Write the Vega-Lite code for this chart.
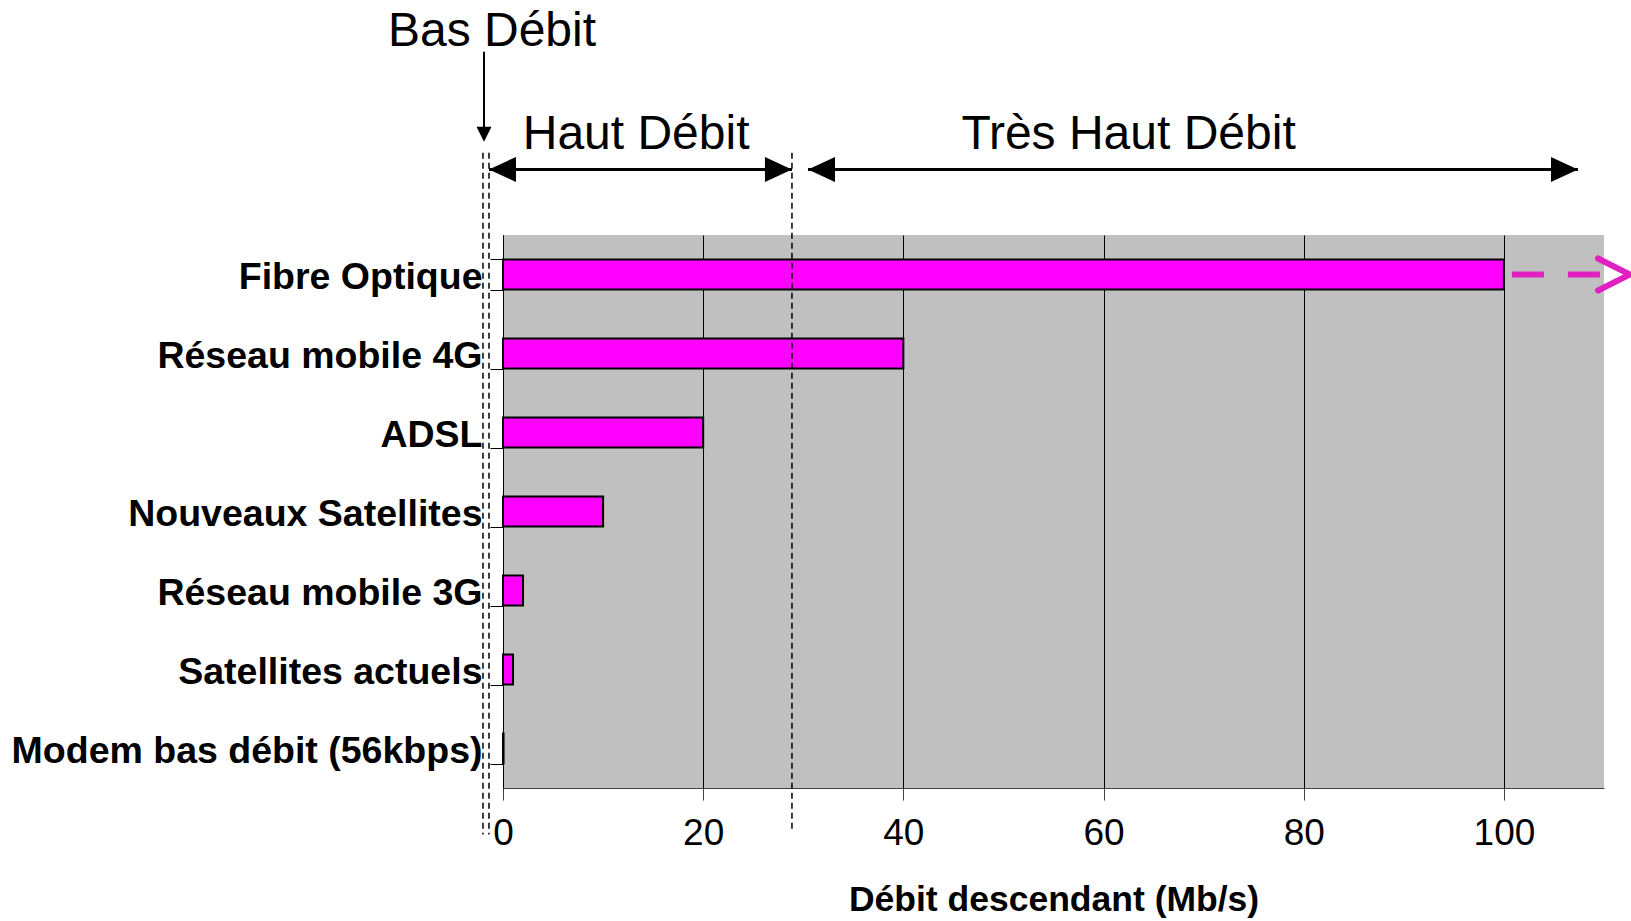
{
  "$schema": "https://vega.github.io/schema/vega-lite/v6.json",
  "width": 1101,
  "height": 553,
  "autosize": "none",
  "padding": {"left": 503, "top": 235, "right": 27, "bottom": 133},
  "background": "white",
  "config": {
    "view": {"fill": "#C0C0C0", "stroke": null},
    "font": "Liberation Sans",
    "text": {"font": "Liberation Sans"}
  },
  "datasets": {
    "bars": [
      {"tech": "Fibre Optique", "debit": 100},
      {"tech": "Réseau mobile 4G", "debit": 40},
      {"tech": "ADSL", "debit": 20},
      {"tech": "Nouveaux Satellites", "debit": 10},
      {"tech": "Réseau mobile 3G", "debit": 2},
      {"tech": "Satellites actuels", "debit": 1},
      {"tech": "Modem bas débit (56kbps)", "debit": 0.056}
    ],
    "dashes": [
      {"x": -2.0, "y": 8.04, "y2": -0.59},
      {"x": -1.4, "y": 8.04, "y2": -0.59},
      {"x": 28.87, "y": 8.04, "y2": -0.56}
    ],
    "arrows": [
      {"x": -1.4, "x2": 28.87, "y": 7.83},
      {"x": 30.47, "x2": 107.4, "y": 7.83}
    ],
    "vertarrow": [
      {"x": -1.9, "y": 9.32, "y2": 8.3}
    ],
    "heads": [
      {"x": -1.4, "y": 7.83, "dir": "left"},
      {"x": 28.87, "y": 7.83, "dir": "right"},
      {"x": 30.47, "y": 7.83, "dir": "left"},
      {"x": 107.4, "y": 7.83, "dir": "right"},
      {"x": -1.9, "y": 8.18, "dir": "down"}
    ],
    "labels": [
      {"label": "Bas Débit", "x": -1.1, "y": 9.39},
      {"label": "Haut Débit", "x": 13.3, "y": 8.09},
      {"label": "Très Haut Débit", "x": 62.5, "y": 8.09}
    ],
    "pink": [
      {"x": 100.8, "x2": 112.3, "y": 6.5}
    ],
    "chevron": [
      {"x": 112.6, "y": 6.5}
    ]
  },
  "layer": [
    {
      "data": {"name": "bars"},
      "mark": {"type": "bar", "fill": "#FF00FF", "stroke": "black", "strokeWidth": 2},
      "encoding": {
        "y": {
          "field": "tech",
          "type": "nominal",
          "sort": ["Fibre Optique", "Réseau mobile 4G", "ADSL", "Nouveaux Satellites", "Réseau mobile 3G", "Satellites actuels", "Modem bas débit (56kbps)"],
          "scale": {"paddingInner": 0.62, "paddingOuter": 0.31},
          "axis": {
            "title": null,
            "labelFontSize": 37.5,
            "labelFontWeight": "bold",
            "labelColor": "black",
            "labelPadding": 8,
            "labelLimit": 0,
            "labelOffset": 3,
            "tickSize": 13,
            "tickBand": "extent",
            "tickColor": "black",
            "domainColor": "black",
            "grid": false
          }
        },
        "x": {
          "field": "debit",
          "type": "quantitative",
          "scale": {"domain": [0, 110], "nice": false, "zero": false},
          "axis": {
            "values": [0, 20, 40, 60, 80, 100],
            "grid": true,
            "gridColor": "black",
            "gridWidth": 1,
            "gridOpacity": 1,
            "tickSize": 12,
            "tickColor": "#404040",
            "domainColor": "#404040",
            "labelFontSize": 37,
            "labelColor": "black",
            "labelPadding": 15,
            "labelFlush": false,
            "labelOverlap": false,
            "title": "Débit descendant (Mb/s)",
            "titleFontSize": 35.5,
            "titleFontWeight": "bold",
            "titleColor": "black",
            "titlePadding": 31
          }
        }
      }
    },
    {
      "layer": [
        {
          "data": {"name": "dashes"},
          "mark": {"type": "rule", "color": "black", "strokeWidth": 1.5, "strokeDash": [6, 4], "clip": false},
          "encoding": {
            "x": {"field": "x", "type": "quantitative", "scale": {"domain": [0, 110], "nice": false, "zero": false}},
            "y": {"field": "y", "type": "quantitative", "scale": {"domain": [0, 7], "nice": false, "zero": false}, "axis": null},
            "y2": {"field": "y2"}
          }
        },
        {
          "data": {"name": "arrows"},
          "mark": {"type": "rule", "color": "black", "strokeWidth": 3, "clip": false},
          "encoding": {
            "x": {"field": "x", "type": "quantitative", "scale": {"domain": [0, 110], "nice": false, "zero": false}},
            "x2": {"field": "x2"},
            "y": {"field": "y", "type": "quantitative", "scale": {"domain": [0, 7], "nice": false, "zero": false}, "axis": null}
          }
        },
        {
          "data": {"name": "vertarrow"},
          "mark": {"type": "rule", "color": "black", "strokeWidth": 2, "clip": false},
          "encoding": {
            "x": {"field": "x", "type": "quantitative", "scale": {"domain": [0, 110], "nice": false, "zero": false}},
            "y": {"field": "y", "type": "quantitative", "scale": {"domain": [0, 7], "nice": false, "zero": false}, "axis": null},
            "y2": {"field": "y2"}
          }
        },
        {
          "data": {"name": "heads"},
          "transform": [{"filter": "datum.dir === 'left'"}],
          "mark": {"type": "point", "shape": "M0,0L2,-0.93L2,0.93Z", "size": 729, "filled": true, "color": "black", "opacity": 1, "strokeWidth": 0, "clip": false},
          "encoding": {
            "x": {"field": "x", "type": "quantitative", "scale": {"domain": [0, 110], "nice": false, "zero": false}},
            "y": {"field": "y", "type": "quantitative", "scale": {"domain": [0, 7], "nice": false, "zero": false}, "axis": null}
          }
        },
        {
          "data": {"name": "heads"},
          "transform": [{"filter": "datum.dir === 'right'"}],
          "mark": {"type": "point", "shape": "M0,0L-2,-0.93L-2,0.93Z", "size": 729, "filled": true, "color": "black", "opacity": 1, "strokeWidth": 0, "clip": false},
          "encoding": {
            "x": {"field": "x", "type": "quantitative", "scale": {"domain": [0, 110], "nice": false, "zero": false}},
            "y": {"field": "y", "type": "quantitative", "scale": {"domain": [0, 7], "nice": false, "zero": false}, "axis": null}
          }
        },
        {
          "data": {"name": "heads"},
          "transform": [{"filter": "datum.dir === 'down'"}],
          "mark": {"type": "point", "shape": "M0,0L-1,-2L1,-2Z", "size": 225, "filled": true, "color": "black", "opacity": 1, "strokeWidth": 0, "clip": false},
          "encoding": {
            "x": {"field": "x", "type": "quantitative", "scale": {"domain": [0, 110], "nice": false, "zero": false}},
            "y": {"field": "y", "type": "quantitative", "scale": {"domain": [0, 7], "nice": false, "zero": false}, "axis": null}
          }
        },
        {
          "data": {"name": "labels"},
          "mark": {"type": "text", "fontSize": 48, "color": "black", "align": "center", "baseline": "alphabetic", "font": "Liberation Sans", "clip": false},
          "encoding": {
            "x": {"field": "x", "type": "quantitative", "scale": {"domain": [0, 110], "nice": false, "zero": false}},
            "y": {"field": "y", "type": "quantitative", "scale": {"domain": [0, 7], "nice": false, "zero": false}, "axis": null},
            "text": {"field": "label"}
          }
        },
        {
          "data": {"name": "pink"},
          "mark": {"type": "rule", "color": "#E020C0", "strokeWidth": 6, "strokeDash": [32, 24], "clip": false},
          "encoding": {
            "x": {"field": "x", "type": "quantitative", "scale": {"domain": [0, 110], "nice": false, "zero": false}},
            "x2": {"field": "x2"},
            "y": {"field": "y", "type": "quantitative", "scale": {"domain": [0, 7], "nice": false, "zero": false}, "axis": null}
          }
        },
        {
          "data": {"name": "chevron"},
          "mark": {"type": "point", "shape": "M-2,-1L0,0L-2,1", "size": 1024, "filled": false, "fill": null, "stroke": "#E020C0", "strokeWidth": 6, "strokeCap": "round", "strokeJoin": "round", "opacity": 1, "clip": false},
          "encoding": {
            "x": {"field": "x", "type": "quantitative", "scale": {"domain": [0, 110], "nice": false, "zero": false}},
            "y": {"field": "y", "type": "quantitative", "scale": {"domain": [0, 7], "nice": false, "zero": false}, "axis": null}
          }
        }
      ]
    }
  ],
  "resolve": {"scale": {"y": "independent"}, "axis": {"y": "independent"}}
}
